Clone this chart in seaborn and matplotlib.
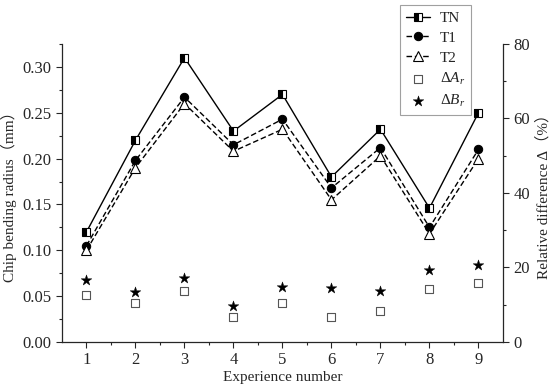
import numpy as np
import pandas as pd
import matplotlib
matplotlib.use('Agg')
import matplotlib.pyplot as plt
import seaborn as sns

# Data
experiments = [1, 2, 3, 4, 5, 6, 7, 8, 9]
tn = [0.120, 0.220, 0.310, 0.230, 0.270, 0.180, 0.232, 0.146, 0.250]
t1 = [0.105, 0.198, 0.267, 0.215, 0.243, 0.168, 0.212, 0.125, 0.210]
t2 = [0.100, 0.190, 0.260, 0.208, 0.232, 0.155, 0.203, 0.118, 0.200]
delta_a = [12.5, 10.4, 13.6, 6.6, 10.4, 6.8, 8.2, 14.3, 15.9]
delta_b = [16.6, 13.5, 17.2, 9.6, 14.7, 14.4, 13.8, 19.2, 20.8]

sns.set_style('ticks')
plt.rcParams['font.family'] = ['Liberation Serif', 'Noto Sans CJK SC', 'DejaVu Sans']
plt.rcParams['mathtext.fontset'] = 'custom'
plt.rcParams['mathtext.rm'] = 'Liberation Serif'
plt.rcParams['mathtext.it'] = 'Liberation Serif:italic'
plt.rcParams['xtick.direction'] = 'out'
plt.rcParams['ytick.direction'] = 'out'

fig = plt.figure(figsize=(5.5, 3.92), dpi=100)
ax = fig.add_axes([0.1127, 0.1276, 0.8018, 0.7602])

dash = (0, (4, 2))
sns.lineplot(x=experiments, y=tn, ax=ax, color='black', lw=1.0, marker='s',
             markersize=6, fillstyle='left', markerfacecolor='black',
             markerfacecoloralt='white', markeredgecolor='black',
             markeredgewidth=0.8, label='TN', legend=False)
sns.lineplot(x=experiments, y=t1, ax=ax, color='black', lw=1.0, linestyle=dash,
             marker='o', markersize=6, markerfacecolor='black',
             markeredgecolor='black', label='T1', legend=False)
sns.lineplot(x=experiments, y=t2, ax=ax, color='black', lw=1.0, linestyle=dash,
             marker='^', markersize=7, markerfacecolor='white',
             markeredgecolor='black', markeredgewidth=0.8, label='T2', legend=False)

ax.set_xlim(0.5, 9.5)
ax.set_ylim(0, 0.325)
ax.set_xticks(experiments)
ax.set_xticks(np.arange(1.5, 9.5, 1), minor=True)
ax.set_yticks(np.arange(0, 0.31, 0.05))
ax.set_yticks(np.arange(0.025, 0.33, 0.05), minor=True)
ax.set_yticklabels([f'{v:.2f}' for v in np.arange(0, 0.31, 0.05)])
ax.tick_params(labelsize=12, length=4, width=0.8)
ax.tick_params(which='minor', length=2.5, width=0.8)
ax.set_xlabel('Experience number', fontsize=11, labelpad=2)
ax.set_ylabel('Chip bending radius（mm）', fontsize=11)
for s in ['left', 'bottom']:
    ax.spines[s].set_linewidth(0.9)
ax.spines['top'].set_visible(False)
ax.spines['right'].set_visible(False)

ax2 = ax.twinx()
sns.scatterplot(x=experiments, y=delta_a, ax=ax2, marker='s', s=36,
                facecolor='white', edgecolor='#555555', linewidth=0.8,
                label=r'$\mathit{\Delta A_r}$', legend=False)
sns.scatterplot(x=experiments, y=delta_b, ax=ax2, marker='*', s=65,
                color='black', edgecolor='black', linewidth=0.3,
                label=r'$\mathit{\Delta B_r}$', legend=False)
ax2.set_ylim(0, 80)
ax2.set_yticks([0, 20, 40, 60, 80])
ax2.set_yticks([10, 30, 50, 70], minor=True)
ax2.tick_params(labelsize=12, length=4, width=0.8)
ax2.tick_params(which='minor', length=2.5, width=0.8)
ax2.set_ylabel('Relative difference Δ（%）', fontsize=11)
ax2.spines['right'].set_linewidth(0.9)
ax2.spines['top'].set_visible(False)
ax2.spines['left'].set_visible(False)
ax2.spines['bottom'].set_visible(False)

h1, l1 = ax.get_legend_handles_labels()
h2, l2 = ax2.get_legend_handles_labels()
leg = fig.legend(h1 + h2, l1 + l2, loc='upper left',
                 bbox_to_anchor=(0.727, 0.987), borderaxespad=0, fontsize=11,
                 frameon=True, fancybox=False, edgecolor='#888888',
                 handlelength=1.6, handletextpad=0.6, labelspacing=0.4,
                 borderpad=0.4)
leg.get_frame().set_linewidth(0.8)

fig.savefig('out.png', dpi=100)
